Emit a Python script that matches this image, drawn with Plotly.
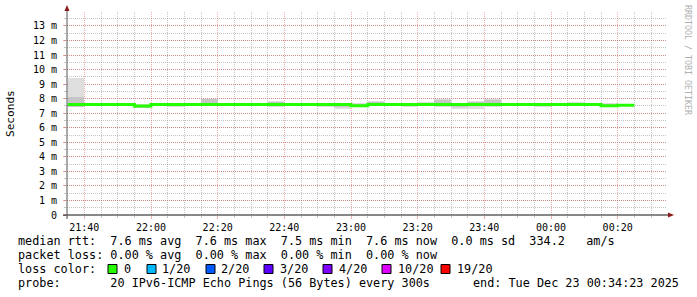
import plotly.graph_objects as go
import pandas as pd

# ---------------- data ----------------
start_time = "2025-12-22 21:35:00"
step_sec = 300
n_steps = 34

median_ms = [7.60, 7.60, 7.60, 7.60, 7.50, 7.60, 7.60, 7.60, 7.60, 7.60,
             7.60, 7.60, 7.60, 7.60, 7.60, 7.60, 7.60, 7.52, 7.60, 7.60,
             7.60, 7.60, 7.60, 7.60, 7.60, 7.60, 7.60, 7.60, 7.60, 7.60,
             7.60, 7.60, 7.52, 7.55]
smoke_min = [7.42, 7.52, 7.52, 7.52, 7.40, 7.52, 7.45, 7.52, 7.48, 7.52,
             7.52, 7.52, 7.41, 7.50, 7.50, 7.42, 7.31, 7.45, 7.50, 7.52,
             7.45, 7.50, 7.45, 7.30, 7.30, 7.45, 7.52, 7.52, 7.42, 7.50,
             7.50, 7.52, 7.45, 7.50]
smoke_max = [9.45, 7.68, 7.68, 7.72, 7.62, 7.68, 7.68, 7.72, 8.00, 7.68,
             7.68, 7.70, 7.82, 7.72, 7.68, 7.68, 7.66, 7.70, 7.86, 7.72,
             7.68, 7.75, 7.98, 7.68, 7.86, 7.98, 7.68, 7.72, 7.66, 7.68,
             7.76, 7.70, 7.70, 7.65]
core_lo = [7.45, 7.56, 7.56, 7.56, 7.42, 7.56, 7.55, 7.56, 7.60, 7.56,
           7.56, 7.56, 7.50, 7.56, 7.56, 7.55, 7.45, 7.50, 7.56, 7.56,
           7.56, 7.56, 7.55, 7.45, 7.50, 7.55, 7.56, 7.56, 7.55, 7.56,
           7.56, 7.56, 7.50, 7.52]
core_hi = [8.10, 7.64, 7.64, 7.66, 7.55, 7.64, 7.64, 7.66, 7.95, 7.64,
           7.64, 7.64, 7.75, 7.64, 7.64, 7.64, 7.62, 7.66, 7.75, 7.68,
           7.64, 7.64, 7.90, 7.62, 7.75, 7.90, 7.64, 7.64, 7.64, 7.64,
           7.70, 7.64, 7.66, 7.62]

y_ticks = list(range(0, 14))
y_tick_text = ["0"] + [f"{v} m" for v in range(1, 14)]

loss_labels = ["0", "1/20", "2/20", "3/20", "4/20", "10/20", "19/20"]
loss_colors = ["#26ff00", "#00b8ff", "#0059ff", "#5e00ff", "#7e00ff", "#dd00ff", "#ff0000"]

line_median = "median rtt:  7.6 ms avg  7.6 ms max  7.5 ms min  7.6 ms now  0.0 ms sd  334.2   am/s"
line_loss = "packet loss: 0.00 % avg  0.00 % max  0.00 % min  0.00 % now"
line_probe = "probe:       20 IPv6-ICMP Echo Pings (56 Bytes) every 300s"
line_end = "end: Tue Dec 23 00:34:23 2025"

# ---------------- layout constants ----------------
W, H = 697, 297
L, R, T, B = 67, 30, 12, 82
PW, PH = W - L - R, H - T - B
FONT = "DejaVu Sans Mono"


def PX(x):
    return (x - L) / PW


def PY(y):
    return (H - B - y) / PH


starts = pd.date_range(start_time, periods=n_steps, freq=f"{step_sec}s")
centers = starts + pd.Timedelta(seconds=step_sec / 2)
end_t = starts[-1] + pd.Timedelta(seconds=step_sec)
w_ms = step_sec * 1000

fig = go.Figure()
fig.add_trace(go.Bar(x=centers, base=smoke_min,
                     y=[a - b for a, b in zip(smoke_max, smoke_min)],
                     width=w_ms, marker=dict(color="#dedede", line=dict(width=0)),
                     hoverinfo="skip"))
fig.add_trace(go.Bar(x=centers, base=core_lo,
                     y=[a - b for a, b in zip(core_hi, core_lo)],
                     width=w_ms, marker=dict(color="#c6c6c6", line=dict(width=0)),
                     hoverinfo="skip"))
fig.add_trace(go.Scatter(x=list(starts) + [end_t], y=median_ms + [median_ms[-1]],
                         mode="lines", line=dict(color=loss_colors[0], width=3, shape="hv"),
                         hoverinfo="skip"))

grid_major = "rgba(220,70,70,0.45)"
grid_minor = "rgba(140,140,140,0.5)"

fig.update_layout(
    width=W, height=H, margin=dict(l=L, r=R, t=T, b=B),
    paper_bgcolor="white", plot_bgcolor="white",
    showlegend=False, barmode="overlay", bargap=0,
    font=dict(family=FONT, size=10, color="black"),
    xaxis=dict(
        type="date", range=["2025-12-22 21:34:48", "2025-12-23 00:34:48"],
        tick0="2025-12-22 21:40:00", dtick=1200000, tickformat="%H:%M",
        showgrid=True, gridcolor=grid_major, griddash="1px,1px", gridwidth=1,
        ticks="outside", ticklen=3, tickcolor=grid_major, ticklabelstandoff=0,
        showline=False, zeroline=False,
        tickfont=dict(family=FONT, size=10, color="black"),
        minor=dict(tick0="2025-12-22 21:40:00", dtick=300000, showgrid=True,
                   gridcolor=grid_minor, griddash="1px,1px", gridwidth=1,
                   ticks="outside", ticklen=2, tickcolor=grid_minor),
    ),
    yaxis=dict(
        range=[0, 13.96], tickvals=y_ticks, ticktext=y_tick_text,
        showgrid=True, gridcolor=grid_major, griddash="1px,1px", gridwidth=1,
        ticks="outside", ticklen=3, tickcolor=grid_major, ticklabelstandoff=4,
        showline=False, zeroline=False,
        tickfont=dict(family=FONT, size=10, color="black"),
        minor=dict(dtick=0.5, tick0=0, showgrid=True, gridcolor=grid_minor,
                   griddash="1px,1px", gridwidth=1,
                   ticks="outside", ticklen=2, tickcolor=grid_minor),
    ),
)

shapes = []
# axis lines
shapes.append(dict(type="line", xref="paper", yref="paper",
                   x0=PX(63), x1=PX(670), y0=PY(215), y1=PY(215),
                   line=dict(color="#111111", width=1), layer="above"))
shapes.append(dict(type="line", xref="paper", yref="paper",
                   x0=PX(67), x1=PX(67), y0=PY(219), y1=PY(10),
                   line=dict(color="#555555", width=1), layer="above"))
# arrows
arrow_c = "#8b1a1a"
shapes.append(dict(type="path", xref="paper", yref="paper",
                   path=f"M {PX(668)} {PY(212.5)} L {PX(674)} {PY(215)} L {PX(668)} {PY(217.5)} Z",
                   fillcolor=arrow_c, line=dict(color=arrow_c, width=0), layer="above"))
shapes.append(dict(type="path", xref="paper", yref="paper",
                   path=f"M {PX(64.5)} {PY(11)} L {PX(67)} {PY(5)} L {PX(69.5)} {PY(11)} Z",
                   fillcolor=arrow_c, line=dict(color=arrow_c, width=0), layer="above"))

# loss colour legend squares
sq_left = [108, 147, 206, 264, 323, 382, 441]
lab_left = [122, 160, 219, 278, 337, 396, 455]
LEG = 11.8
annotations = []
for sx, lx, col, lab in zip(sq_left, lab_left, loss_colors, loss_labels):
    shapes.append(dict(type="rect", xref="paper", yref="paper",
                       x0=PX(sx), x1=PX(sx + 9), y0=PY(273.5), y1=PY(264.5),
                       fillcolor=col, line=dict(color="black", width=1)))
    annotations.append(dict(text=lab, x=PX(lx), y=PY(269), xref="paper", yref="paper",
                            xanchor="left", yanchor="middle", showarrow=False,
                            font=dict(family=FONT, size=LEG, color="black")))

legend_font = dict(family=FONT, size=LEG, color="black")
for txt, y in [(line_median, 241), (line_loss, 255), ("loss color:", 269), (line_probe, 283)]:
    annotations.append(dict(text=txt.replace(" ", "&nbsp;"), x=PX(16), y=PY(y), xref="paper", yref="paper",
                            xanchor="left", yanchor="middle", showarrow=False, font=legend_font))
annotations.append(dict(text=line_end.replace(" ", "&nbsp;"), x=PX(681), y=PY(283), xref="paper", yref="paper",
                        xanchor="right", yanchor="middle", showarrow=False, font=legend_font))
annotations.append(dict(text="Seconds", x=PX(10), y=PY(114), xref="paper", yref="paper",
                        xanchor="center", yanchor="middle", textangle=-90, showarrow=False,
                        font=dict(family=FONT, size=11.1, color="black")))
annotations.append(dict(text="RRDTOOL / TOBI OETIKER", x=PX(688), y=PY(60), xref="paper", yref="paper",
                        xanchor="center", yanchor="middle", textangle=90, showarrow=False,
                        font=dict(family=FONT, size=8.3, color="#b0b0b0")))

fig.update_layout(shapes=shapes, annotations=annotations)
fig.write_html("out.html")
